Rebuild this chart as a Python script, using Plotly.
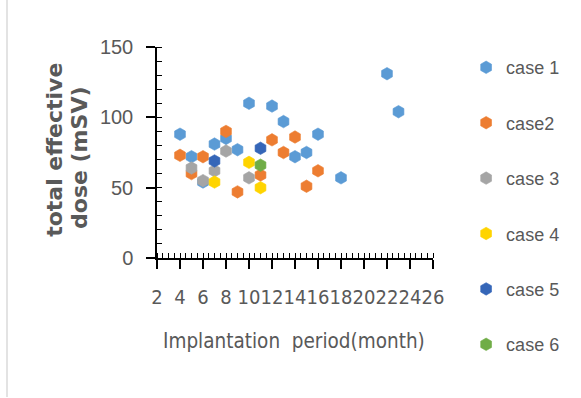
import plotly.graph_objects as go

# ---- data ----
case_names = ["case 1", "case2", "case 3", "case 4", "case 5", "case 6"]
case1_x = [4, 5, 6, 7, 8, 9, 10, 12, 13, 14, 15, 16, 18, 22, 23]
case1_y = [88, 72, 54, 81, 85, 77, 110, 108, 97, 72, 75, 88, 57, 131, 104]
case2_x = [4, 5, 6, 8, 9, 11, 12, 13, 14, 15, 16]
case2_y = [73, 60, 72, 90, 47, 59, 84, 75, 86, 51, 62]
case3_x = [5, 6, 7, 8, 10]
case3_y = [64, 55, 62, 76, 57]
case4_x = [7, 10, 11]
case4_y = [54, 68, 50]
case5_x = [7, 11]
case5_y = [69, 78]
case6_x = [11]
case6_y = [66]

xs = [case1_x, case2_x, case3_x, case4_x, case5_x, case6_x]
ys = [case1_y, case2_y, case3_y, case4_y, case5_y, case6_y]
colors = ["#5B9BD5", "#ED7D31", "#A5A5A5", "#FFD400", "#3566B8", "#70AD47"]

GREY = "#595959"
TICKFONT = "DejaVu Sans Condensed, Liberation Sans, sans-serif"

fig = go.Figure()
for i in range(6):
    fig.add_trace(go.Scatter(
        x=xs[i], y=ys[i], mode="markers", name=case_names[i],
        legendgroup=f"g{i}",
        marker=dict(symbol="hexagon", size=12.5, color=colors[i],
                    line=dict(width=0.6, color=colors[i])),
        cliponaxis=False,
    ))

fig.update_layout(
    width=581, height=398, autosize=False,
    margin=dict(l=157, r=148, t=47, b=140),
    paper_bgcolor="white", plot_bgcolor="white",
    showlegend=True,
    legend=dict(x=1.12, xanchor="left", y=0.99, yanchor="top", maxheight=398,
                font=dict(family="Liberation Sans, Arial, sans-serif", size=18, color=GREY),
                tracegroupgap=29, bgcolor="rgba(0,0,0,0)"),
    xaxis=dict(range=[2, 26], tick0=2, dtick=2, showgrid=False, zeroline=False,
               showline=True, linecolor="black", linewidth=1.5,
               ticks="outside", ticklen=9, tickwidth=1.5, tickcolor="black",
               minor=dict(ticks="inside", dtick=0.5, ticklen=5, tickwidth=1, tickcolor="black"),
               tickangle=0, ticklabelstandoff=11,
               tickfont=dict(family=TICKFONT, size=20, color=GREY)),
    xaxis2=dict(range=[2, 26], tick0=2, dtick=2, overlaying="x", anchor="y",
                showgrid=False, zeroline=False, showline=False,
                ticks="inside", ticklen=7, tickwidth=1.5, tickcolor="black",
                showticklabels=False),
    yaxis=dict(range=[0, 150], tick0=0, dtick=50, showgrid=False, zeroline=False,
               showline=True, linecolor="black", linewidth=1.5,
               ticks="outside", ticklen=9, tickwidth=1.5, tickcolor="black",
               minor=dict(ticks="inside", dtick=10, ticklen=5, tickwidth=1, tickcolor="black"),
               ticklabelstandoff=9,
               tickfont=dict(family="Liberation Sans, Arial, sans-serif", size=20, color=GREY)),
    yaxis2=dict(range=[0, 150], tick0=0, dtick=50, overlaying="y", anchor="x",
                showgrid=False, zeroline=False, showline=False,
                ticks="inside", ticklen=8, tickwidth=1.5, tickcolor="black",
                showticklabels=False),
)

# titles
fig.add_annotation(text="Implantation  period(month)", xref="paper", yref="paper",
                   x=0.496, y=-0.393, xanchor="center", yanchor="middle", showarrow=False,
                   font=dict(family=TICKFONT, size=20.5, color=GREY))
fig.add_annotation(text="<b>total effective</b>", xref="paper", yref="paper",
                   x=-0.37, y=0.512, xanchor="center", yanchor="middle", showarrow=False,
                   textangle=-90, font=dict(family="DejaVu Sans, sans-serif", size=22, color=GREY))
fig.add_annotation(text="<b>dose (mSV)</b>", xref="paper", yref="paper",
                   x=-0.279, y=0.474, xanchor="center", yanchor="middle", showarrow=False,
                   textangle=-90, font=dict(family="DejaVu Sans, sans-serif", size=22, color=GREY))

# faint chart-area frame (left edge)
fig.add_shape(type="line", xref="paper", yref="paper",
              x0=(7 - 157) / 276, x1=(7 - 157) / 276, y0=(258 - 0) / 211, y1=(258 - 397) / 211,
              line=dict(color="#E3E3E3", width=2))

fig.write_html("out.html")
